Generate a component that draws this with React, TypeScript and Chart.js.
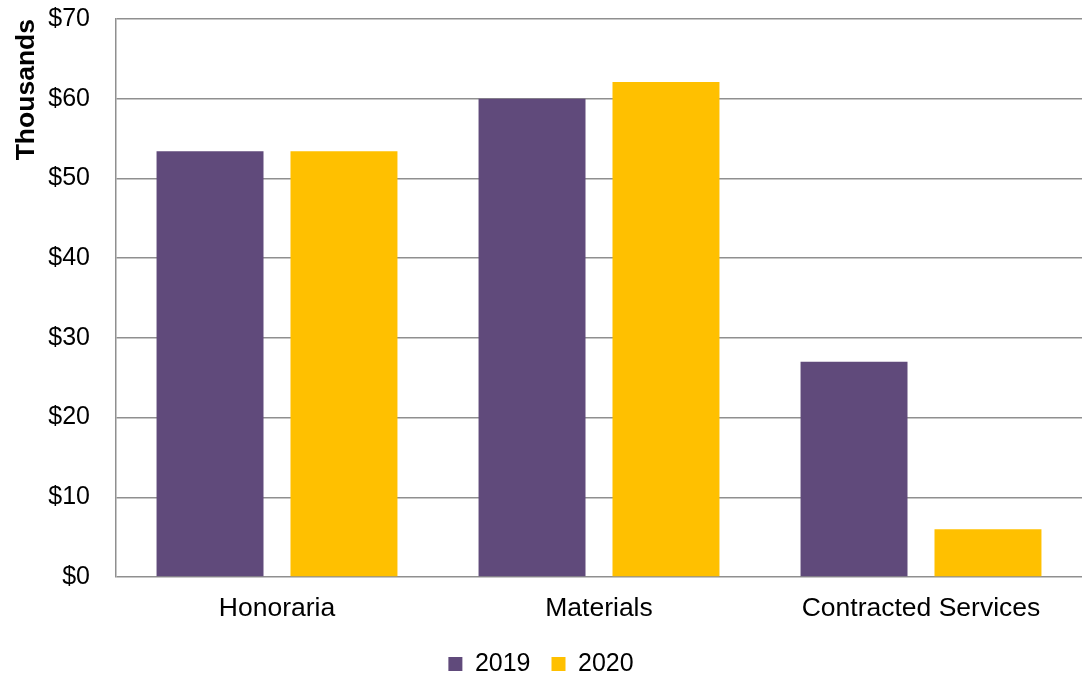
import React, { useEffect, useRef } from "react";
import { Chart, registerables } from "chart.js";

Chart.register(...registerables);

const categories = ["Honoraria", "Materials", "Contracted Services"];
const series2019 = [53.4, 60.0, 27.0];
const series2020 = [53.4, 62.1, 6.0];
const seriesLabels = ["2019", "2020"];
const yTicksMax = 70;
const yTickStep = 10;

const FONT = "'Liberation Sans', Arial, sans-serif";
const GRID = "#8f8f8f";

export default function App() {
  const ref = useRef<HTMLCanvasElement | null>(null);

  useEffect(() => {
    document.body.style.margin = "0";
    if (!ref.current) return;
    const chart = new Chart(ref.current, {
      type: "bar",
      data: {
        labels: categories,
        datasets: [
          {
            label: seriesLabels[0],
            data: series2019,
            backgroundColor: "#604A7B",
            categoryPercentage: 0.832,
            barPercentage: 0.7985,
          },
          {
            label: seriesLabels[1],
            data: series2020,
            backgroundColor: "#FFC000",
            categoryPercentage: 0.832,
            barPercentage: 0.7985,
          },
        ],
      },
      options: {
        animation: false,
        responsive: false,
        maintainAspectRatio: false,
        layout: { padding: { top: 19, left: 0, right: 0, bottom: -8.5 } },
        plugins: {
          tooltip: { enabled: false },
          legend: {
            position: "bottom",
            labels: {
              boxWidth: 14,
              boxHeight: 14,
              padding: 21,
              color: "#000",
              font: { family: FONT, size: 25 },
            },
          },
        },
        scales: {
          x: {
            grid: { display: false, drawTicks: false },
            border: { display: false },
            ticks: {
              color: "#000",
              padding: 16,
              font: { family: FONT, size: 26.5 },
            },
            afterFit: (s: any) => {
              s.height = 53.5;
            },
          },
          y: {
            min: 0,
            max: yTicksMax,
            grid: { color: GRID, lineWidth: 1.5, drawTicks: false },
            border: { display: true, color: GRID, width: 1.5 },
            ticks: {
              stepSize: yTickStep,
              color: "#000",
              padding: 26,
              font: { family: FONT, size: 25 },
              callback: (v: any) => "$" + v,
            },
            title: {
              display: true,
              text: "Thousands",
              align: "end",
              color: "#000",
              padding: { top: 11, bottom: 0 },
              font: { family: FONT, size: 26.5, weight: "bold" },
            },
            afterFit: (s: any) => {
              s.width = 116;
              s.paddingTop = 0;
              s.paddingBottom = 0;
            },
          },
        },
      },
    });
    return () => chart.destroy();
  }, []);

  return (
    <div style={{ position: "absolute", left: 0, top: 0, width: 1082, height: 678 }}>
      <canvas ref={ref} width={1082} height={678} style={{ width: 1082, height: 678 }} />
    </div>
  );
}
